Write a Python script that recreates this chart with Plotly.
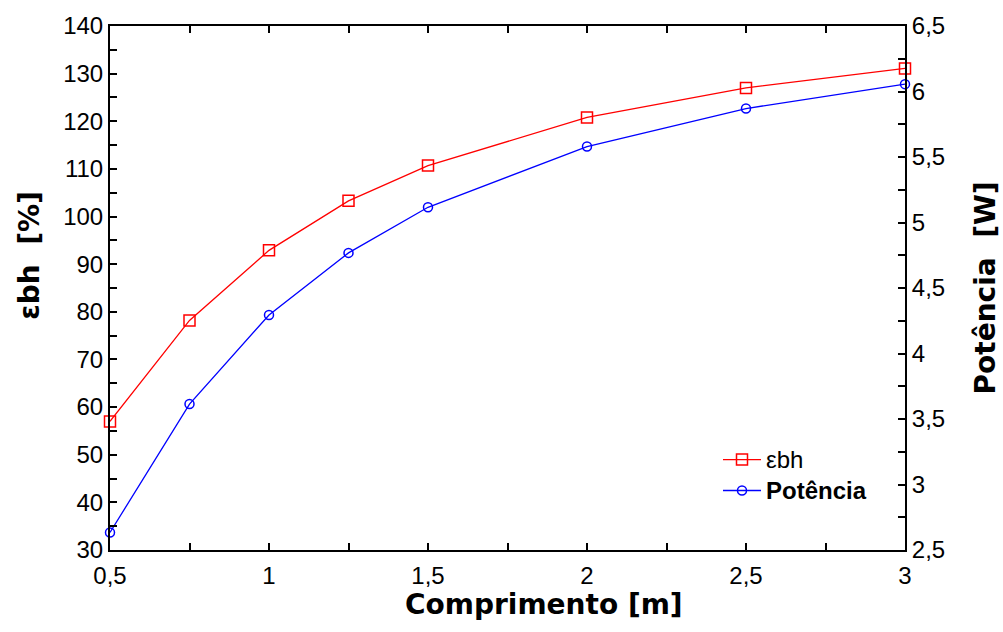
import plotly.graph_objects as go

# Comprimento do tubo [m]
comprimento = [0.5, 0.75, 1.0, 1.25, 1.5, 2.0, 2.5, 3.0]
# Eficiência εbh [%]
eficiencia = [57.0, 78.2, 92.9, 103.3, 110.7, 120.8, 127.0, 131.1]
# Potência [W]
potencia = [2.634, 3.614, 4.294, 4.768, 5.116, 5.58, 5.87, 6.056]

W, H = 1003, 632
L, R, T, B = 110, 905, 21, 550

font_family = "Liberation Sans, Arial, sans-serif"
title_family = "DejaVu Sans, Liberation Sans, sans-serif"

fig = go.Figure()
fig.add_trace(go.Scatter(
    x=comprimento, y=eficiencia, name="<span style='font-size:24px'>εbh</span>",
    mode="lines+markers",
    line=dict(color="#ff0000", width=1.3),
    marker=dict(symbol="square-open", size=11, color="#ff0000", line=dict(width=1.5)),
    cliponaxis=False,
))
fig.add_trace(go.Scatter(
    x=comprimento, y=potencia, name="<span style='font-size:24px'><b>Potência</b></span>",
    mode="lines+markers", yaxis="y2",
    line=dict(color="#0000ff", width=1.3),
    marker=dict(symbol="circle-open", size=9, color="#0000ff", line=dict(width=1.5)),
    cliponaxis=False,
))

tickfont = dict(family=font_family, size=24, color="black")
minor_common = dict(ticks="inside", ticklen=7, tickwidth=1.5, tickcolor="black")
axis_common = dict(
    showgrid=False, zeroline=False, showline=True, linecolor="black", linewidth=2,
    ticks="inside", ticklen=7, tickwidth=1.5, tickcolor="black", tickfont=tickfont,
)

fig.update_layout(
    width=W, height=H,
    margin=dict(l=L, r=W - R, t=T, b=H - B),
    paper_bgcolor="white", plot_bgcolor="white",
    separators=",.",
    font=dict(family=font_family, color="black"),
    xaxis=dict(
        range=[0.5, 3], dtick=0.5, tick0=0.5, mirror="ticks", ticklabelstandoff=3,
        minor=dict(dtick=0.25, tick0=0.5, **minor_common),
        **axis_common,
    ),
    yaxis=dict(
        range=[30, 140], dtick=10, tick0=30,
        minor=dict(dtick=5, tick0=30, **minor_common),
        **axis_common,
    ),
    yaxis2=dict(
        range=[2.5, 6.5], dtick=0.5, tick0=2.5, overlaying="y", side="right",
        minor=dict(dtick=0.25, tick0=2.5, **minor_common),
        **axis_common,
    ),
    legend=dict(
        x=(718 - L) / (R - L), y=(B - 438) / (B - T), xanchor="left", yanchor="top",
        bgcolor="rgba(0,0,0,0)", borderwidth=0, itemwidth=38,
        font=dict(family=font_family, size=21.5, color="black"),
        tracegroupgap=0,
    ),
    showlegend=True,
)

# Títulos dos eixos
title_font = dict(family=title_family, size=28, color="black")
fig.add_annotation(
    text="<b>Comprimento [m]</b>", xref="paper", yref="paper",
    x=(544 - L) / (R - L), y=-(605 - B) / (B - T), xanchor="center", yanchor="middle",
    showarrow=False, font=title_font,
)
fig.add_annotation(
    text="<b>εbh  [%]</b>", xref="paper", yref="paper",
    x=-(L - 30) / (R - L), y=(B - 253) / (B - T), xanchor="center", yanchor="middle",
    textangle=-90, showarrow=False, font=title_font,
)
fig.add_annotation(
    text="<b>Potência  [W]</b>", xref="paper", yref="paper",
    x=1 + (985 - R) / (R - L), y=(B - 286) / (B - T), xanchor="center", yanchor="middle",
    textangle=-90, showarrow=False, font=title_font,
)

fig.write_html("out.html")
